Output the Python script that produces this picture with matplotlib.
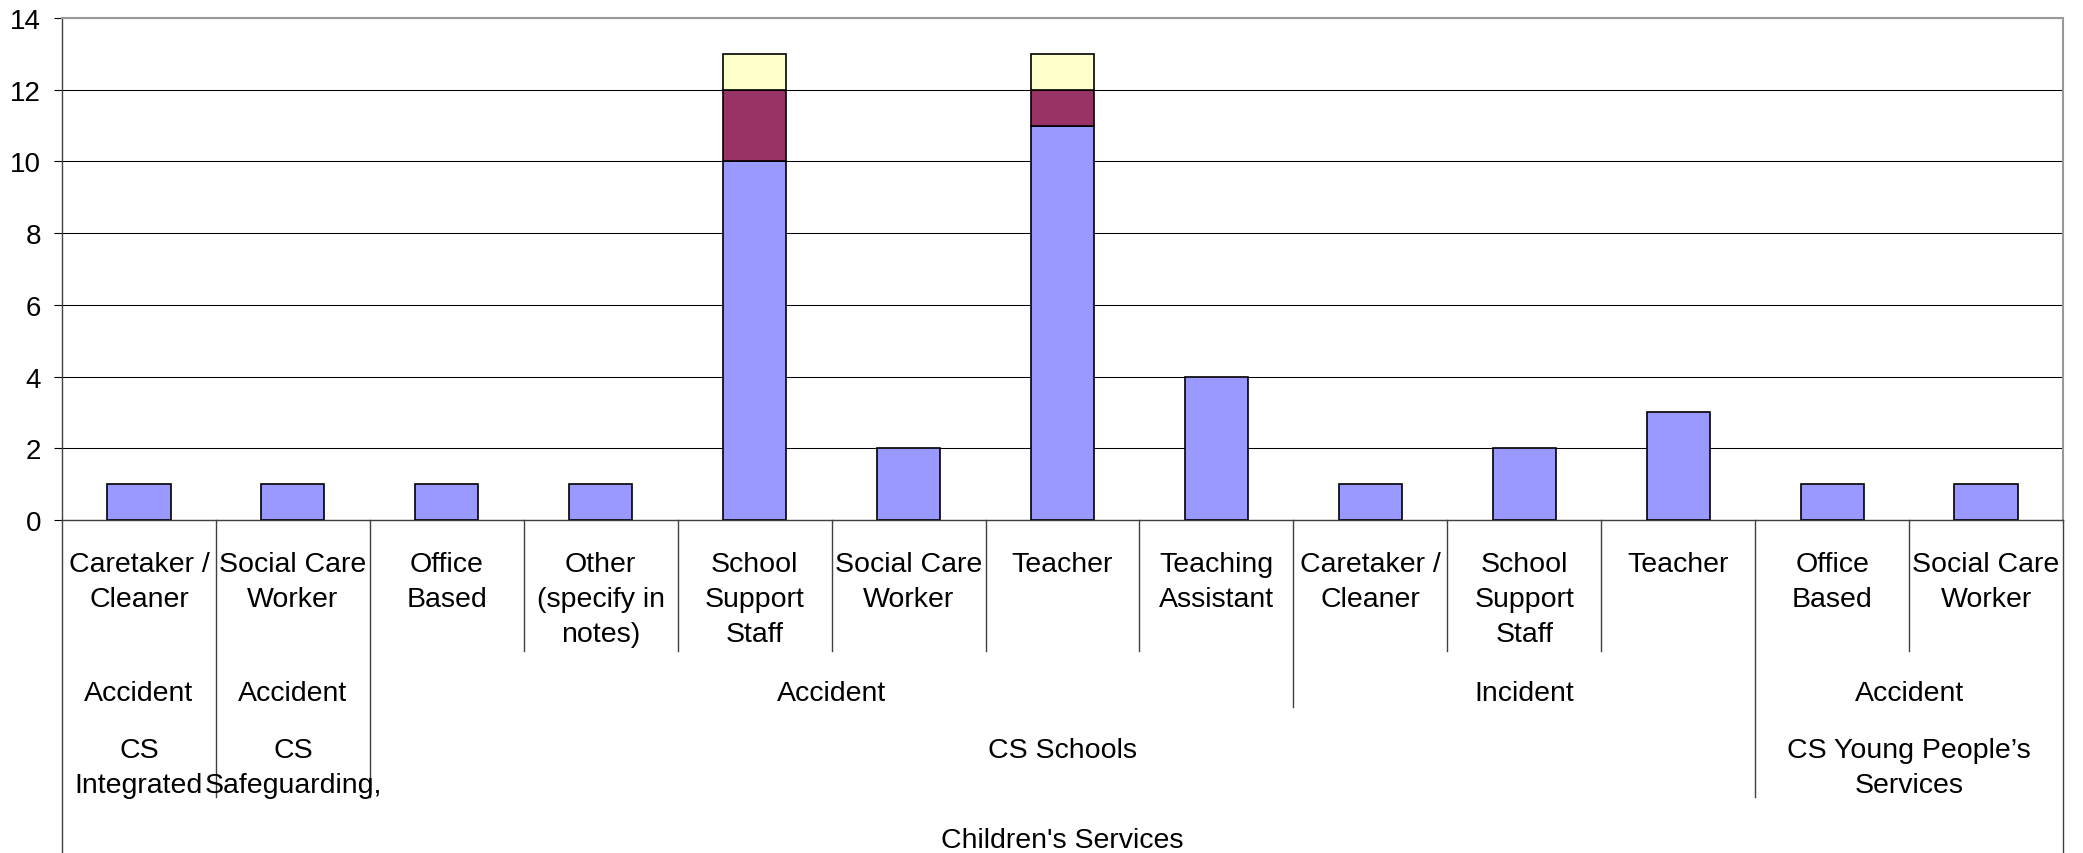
import matplotlib
matplotlib.use("Agg")
import matplotlib.pyplot as plt
import numpy as np
from matplotlib.transforms import blended_transform_factory
from matplotlib.lines import Line2D

plt.rcParams['font.family'] = ['Liberation Sans', 'DejaVu Sans']

# Category labels (innermost level) and stacked series values
occupations = ["Caretaker /\nCleaner", "Social Care\nWorker", "Office\nBased",
               "Other\n(specify in\nnotes)", "School\nSupport\nStaff", "Social Care\nWorker",
               "Teacher", "Teaching\nAssistant", "Caretaker /\nCleaner",
               "School\nSupport\nStaff", "Teacher", "Office\nBased", "Social Care\nWorker"]
series_a = [1, 1, 1, 1, 10, 2, 11, 4, 1, 2, 3, 1, 1]
series_b = [0, 0, 0, 0, 2, 0, 1, 0, 0, 0, 0, 0, 0]
series_c = [0, 0, 0, 0, 1, 0, 1, 0, 0, 0, 0, 0, 0]

# Outer grouping levels: (label, first category, last category)
event_types = [("Accident", 0, 0), ("Accident", 1, 1), ("Accident", 2, 7),
               ("Incident", 8, 10), ("Accident", 11, 12)]
directorates = [("CS\nIntegrated", 0, 0), ("CS\nSafeguarding,", 1, 1),
                ("CS Schools", 2, 10), ("CS Young People\u2019s\nServices", 11, 12)]
departments = [("Children's Services", 0, 12)]

y_ticks = [0, 2, 4, 6, 8, 10, 12, 14]

colors = ["#9999FF", "#993366", "#FFFFCC"]

W, H = 2083, 854
fig = plt.figure(figsize=(W / 100, H / 100), dpi=100)
left, right, top, bottom = 62, 2063, 19, 521
ax = fig.add_axes([left / W, 1 - bottom / H, (right - left) / W, (bottom - top) / H])

x = np.arange(len(occupations))
bw = 0.41
base = np.zeros(len(x))
for vals, col in zip([series_a, series_b, series_c], colors):
    v = np.array(vals, dtype=float)
    m = v > 0
    ax.bar(x[m], v[m], bw, bottom=base[m], color=col, edgecolor="black",
           linewidth=1.2, zorder=3)
    base = base + v

ax.set_xlim(-0.5, len(x) - 0.5)
ax.set_ylim(0, 14)
ax.set_yticks(y_ticks)
ax.tick_params(axis="y", direction="out", length=6, width=0.8, pad=9,
               labelsize=20, colors="black")
ax.tick_params(axis="x", bottom=False, labelbottom=False)
ax.yaxis.grid(True, color="black", linewidth=0.75)
ax.set_axisbelow(True)
for s in ["top", "right"]:
    ax.spines[s].set_color("#999999")
    ax.spines[s].set_linewidth(1.5)
ax.spines["left"].set_color("#404040")
ax.spines["left"].set_linewidth(1.0)
ax.spines["bottom"].set_color("#404040")
ax.spines["bottom"].set_linewidth(1.0)

trans = blended_transform_factory(ax.transData, fig.transFigure)


def fy(px):
    return 1 - px / H


# Separator lengths by the highest level that changes at a boundary
level_ends = [652, 708, 798, 854]
groups_by_level = [
    [(o, i, i) for i, o in enumerate(occupations)],
    event_types, directorates, departments,
]
n = len(occupations)
for b in range(n + 1):
    lvl = 0
    for li, groups in enumerate(groups_by_level):
        starts = {g[1] for g in groups} | {g[2] + 1 for g in groups}
        if b in starts:
            lvl = li
    if b == 0 or b == n:
        lvl = 3
    fig.add_artist(Line2D([b - 0.5, b - 0.5], [fy(bottom), fy(level_ends[lvl])],
                          transform=trans, color="#404040", linewidth=1.0))

row_tops = [552, 681, 738, 828]
fs = 20.5
ls = 1.44
for i, lab in enumerate(occupations):
    fig.text(i, fy(row_tops[0]), lab, transform=trans, ha="center", va="top",
             fontsize=fs, linespacing=ls, multialignment="center")
for li, groups in enumerate([event_types, directorates, departments], start=1):
    for lab, s, e in groups:
        fig.text((s + e) / 2, fy(row_tops[li]), lab, transform=trans, ha="center",
                 va="top", fontsize=fs, linespacing=ls, multialignment="center")

fig.savefig("out.png", dpi=100)
